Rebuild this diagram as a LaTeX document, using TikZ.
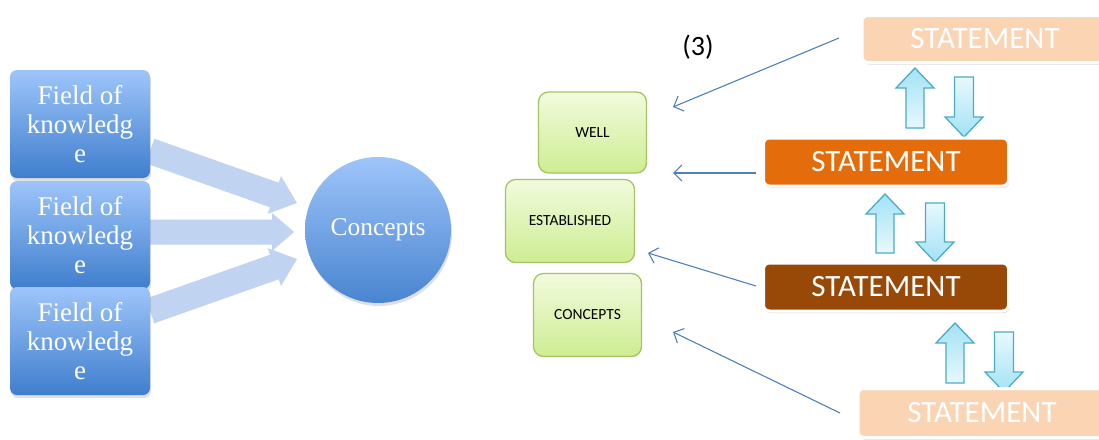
\documentclass[tikz,border=0pt]{standalone}
\usepackage{fontspec}
\setmainfont{Liberation Serif}
\newfontfamily\calib{Carlito}
\usetikzlibrary{shadows,arrows.meta,calc}
\definecolor{boxtop}{HTML}{9EC5FA}
\definecolor{boxbot}{HTML}{3F7ECD}
\definecolor{fatblue}{HTML}{B5CCEF}
\definecolor{gtop}{HTML}{F2FBDD}
\definecolor{gbot}{HTML}{CDED92}
\definecolor{gedge}{HTML}{A3C366}
\definecolor{peach}{HTML}{FBD4B4}
\definecolor{orng}{HTML}{E46C0A}
\definecolor{brwn}{HTML}{984807}
\definecolor{cydark}{HTML}{A3E2F5}
\definecolor{cylight}{HTML}{E8F8FD}
\definecolor{cyedge}{HTML}{4BACC6}
\definecolor{lineblue}{HTML}{4F81BD}
\newcommand\fatarrow[6]{%
  \path[#1] let \p1=(#2), \p2=(#3), \n1={atan2(\y2-\y1,\x2-\x1)}, \n2={veclen(\x2-\x1,\y2-\y1)} in
    {[shift={(\p1)}, rotate=\n1] (0,#4) -- (\n2-#6,#4) -- (\n2-#6,#5) -- (\n2,0) -- (\n2-#6,-#5) -- (\n2-#6,-#4) -- (0,-#4) -- cycle};
}
\begin{document}
\begin{tikzpicture}[x=1pt,y=-1pt,
  fieldbox/.style={rounded corners=7pt, minimum width=140pt, minimum height=108pt,
    top color=boxtop, bottom color=boxbot, text=white, align=center,
    font=\fontsize{27}{29}\selectfont,
    drop shadow={shadow xshift=1pt, shadow yshift=-3pt, opacity=.25}},
  conceptcircle/.style={circle, minimum size=146pt, top color=boxtop, bottom color=boxbot!95!white,
    text=white, font=\fontsize{25.5}{29}\selectfont,
    drop shadow={shadow xshift=1pt, shadow yshift=-3pt, opacity=.25}},
  fatstyle/.style={fill=fatblue, fill opacity=.85},
  upstyle/.style={draw=cyedge, line width=1.3pt, top color=cydark, bottom color=cylight},
  downstyle/.style={draw=cyedge, line width=1.3pt, top color=cylight, bottom color=cydark},
  greenbox/.style={rounded corners=10pt, draw=gedge, line width=1.3pt, top color=gtop, bottom color=gbot,
    font=\calib\fontsize{15.5}{18}\selectfont, text=black},
  stmt/.style={rounded corners=6pt, draw=white, line width=3pt, text=white,
    font=\calib\fontsize{31}{34}\selectfont,
    drop shadow={shadow xshift=1pt, shadow yshift=-2pt, opacity=.3}},
  thinarrow/.style={draw=lineblue, line width=1.1pt, -{Straight Barb[length=8pt,width=16pt]}}
]
\useasboundingbox (0,0) rectangle (1099,439);
\clip (0,0) rectangle (1099,439);
\fill[white] (0,0) rectangle (1099,439);

% ---- left part
\coordinate (a1s) at (150,151);
\coordinate (a1t) at (297,203);
\coordinate (a2s) at (150,232);
\coordinate (a2t) at (294,232);
\coordinate (a3s) at (150,311);
\coordinate (a3t) at (297,259);
\fatarrow{fatstyle}{a1s}{a1t}{13}{20}{24}
\fatarrow{fatstyle}{a2s}{a2t}{12.5}{19}{22}
\fatarrow{fatstyle}{a3s}{a3t}{13}{20}{24}

\node[fieldbox] (f1) at (80,124) {Field of\\knowledg\\e};
\node[fieldbox] (f2) at (80,235) {Field of\\knowledg\\e};
\node[fieldbox] (f3) at (80,341) {Field of\\knowledg\\e};
\node[conceptcircle] (c) at (378,230) {Concepts};

% ---- middle green boxes
\node[greenbox, minimum width=108pt, minimum height=81pt] (well) at (592.5,132.5) {WELL};
\node[greenbox, minimum width=129pt, minimum height=83pt] (est) at (570,221) {ESTABLISHED};
\node[greenbox, minimum width=108pt, minimum height=83pt] (con) at (587.5,315) {CONCEPTS};

% ---- cyan up/down arrows
\coordinate (u1s) at (915,128); \coordinate (u1t) at (915,68);
\coordinate (d1s) at (964,77);  \coordinate (d1t) at (964,137);
\coordinate (u2s) at (885,253); \coordinate (u2t) at (885,194);
\coordinate (d2s) at (935,203); \coordinate (d2t) at (935,262);
\coordinate (u3s) at (955,383); \coordinate (u3t) at (955,323);
\coordinate (d3s) at (1004,332); \coordinate (d3t) at (1004,392);
\fatarrow{upstyle}{u1s}{u1t}{9}{19}{20}
\fatarrow{downstyle}{d1s}{d1t}{9.5}{19}{20}
\fatarrow{upstyle}{u2s}{u2t}{9}{19}{20}
\fatarrow{downstyle}{d2s}{d2t}{9.5}{19}{20}
\fatarrow{upstyle}{u3s}{u3t}{9}{19}{20}
\fatarrow{downstyle}{d3s}{d3t}{9.5}{19}{20}

% ---- statement boxes
\node[stmt, fill=peach, minimum width=246pt, minimum height=47pt] (s1) at (985,39) {STATEMENT};
\node[stmt, fill=orng, minimum width=245pt, minimum height=48pt] (s2) at (886,162) {STATEMENT};
\node[stmt, fill=brwn, minimum width=245pt, minimum height=48pt] (s3) at (886,287) {STATEMENT};
\node[stmt, fill=peach, minimum width=248pt, minimum height=49pt] (s4) at (982,413) {STATEMENT};

% ---- thin connectors
\coordinate (t1s) at (839,38);  \coordinate (t1e) at (673,107);
\coordinate (t2s) at (756,173); \coordinate (t2e) at (673,173);
\coordinate (t3s) at (756,286); \coordinate (t3e) at (648,253);
\coordinate (t4s) at (840,413); \coordinate (t4e) at (673,332);
\draw[thinarrow] (t1s) -- (t1e);
\draw[thinarrow] (t2s) -- (t2e);
\draw[thinarrow] (t3s) -- (t3e);
\draw[thinarrow] (t4s) -- (t4e);

\node[font=\calib\fontsize{28}{32}\selectfont] (lbl) at (698,47) {(3)};
\end{tikzpicture}
\end{document}
